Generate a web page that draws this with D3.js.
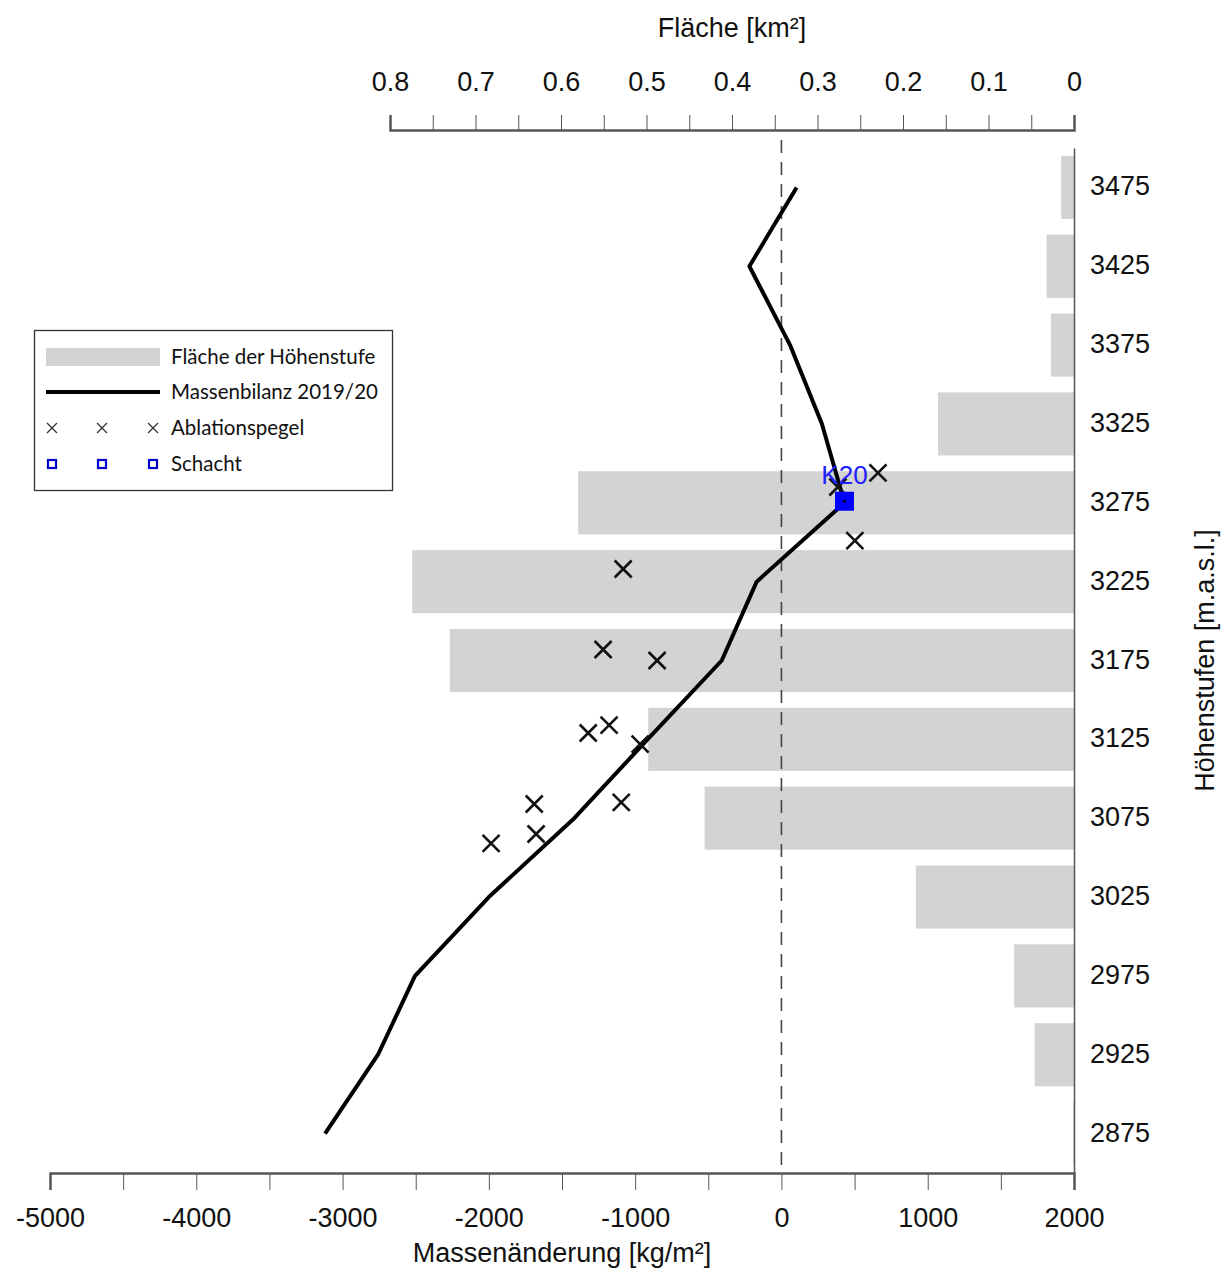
<!DOCTYPE html>
<html>
<head>
<meta charset="utf-8">
<script src="https://cdn.jsdelivr.net/npm/d3@7"></script>
<style>
    body { margin: 0; background: #fff; }
    svg { display: block; }
    .axis text { font-family: "Liberation Sans", Arial, sans-serif; font-size: 27px; fill: #111; }
    .axis path, .axis line { stroke: #555; }
    .title { font-family: "Liberation Sans", Arial, sans-serif; font-size: 27px; fill: #111; }
    .legend text { font-family: Lato, "Open Sans", sans-serif; font-size: 20.5px; fill: #111; }
</style>
</head>
<body>
<div id="chart"></div>
<script>
"use strict";

// Höhenstufen (Mitte der 50-m-Stufe)
const elevations = [2875, 2925, 2975, 3025, 3075, 3125, 3175, 3225, 3275, 3325, 3375, 3425, 3475];
// Fläche der Höhenstufe [km²]
const areaKm2 = [0.001, 0.046, 0.070, 0.185, 0.432, 0.498, 0.730, 0.774, 0.580, 0.159, 0.027, 0.032, 0.015];
// Massenbilanz 2019/20 [kg/m²]
const massBalance = [-3120, -2758, -2505, -2000, -1416, -915, -408, -169, 431, 277, 59, -219, 104];

// Ablationspegel
const stakeBalance = [660, 386, 502, -1082, -1219, -850, -1321, -1178, -966, -1690, -1095, -1677, -1985];
const stakeElevation = [3294, 3285, 3251, 3233, 3182, 3175, 3129, 3134, 3122, 3084, 3085, 3065, 3059];

// Schacht
const pitNames = ["K20"];
const pitBalance = [431];
const pitElevation = [3276];

const bottomTicks = d3.range(-5000, 2001, 500);
const topTicks = d3.range(0, 0.801, 0.05).map(d => Math.round(d * 100) / 100);

const legendLabels = ["Fläche der Höhenstufe", "Massenbilanz 2019/20", "Ablationspegel", "Schacht"];

const width = 1221, height = 1268;
const svg = d3.select("#chart").append("svg")
    .attr("width", width)
    .attr("height", height);

const x = d3.scaleLinear().domain([-5000, 2000]).range([50, 1074]);
const xArea = d3.scaleLinear().domain([0.8, 0]).range([390, 1074]);
const y = d3.scaleLinear().domain([2850, 3500]).range([1173, 148]);

// Balken (Fläche) - 40 m hoch je Stufe
const bars = elevations.map((e, i) => ({e: e, a: areaKm2[i]}));
svg.append("g")
    .selectAll("rect")
    .data(bars)
    .join("rect")
    .attr("x", d => xArea(d.a))
    .attr("width", d => xArea(0) - xArea(d.a))
    .attr("y", d => y(d.e + 20))
    .attr("height", d => y(d.e - 20) - y(d.e + 20))
    .attr("fill", "#d3d3d3");

// Nulllinie
svg.append("line")
    .attr("x1", x(0)).attr("x2", x(0))
    .attr("y1", 140).attr("y2", y(2850))
    .attr("stroke", "#444")
    .attr("stroke-width", 1.6)
    .attr("stroke-dasharray", "13,9");

// Achsen
const xAxis = d3.axisBottom(x)
    .tickValues(bottomTicks)
    .tickSize(17)
    .tickPadding(18)
    .tickFormat(d => d % 1000 === 0 ? d : "");
svg.append("g")
    .attr("class", "axis")
    .attr("transform", `translate(0,${y(2850)})`)
    .call(xAxis)
    .call(g => g.select(".domain").attr("stroke-width", 2.5).attr("stroke", "#777"));

const topAxis = d3.axisTop(xArea)
    .tickValues(topTicks)
    .tickSize(15)
    .tickPadding(24)
    .tickFormat(d => Math.round(d * 100) % 10 === 0 ? (d === 0 ? "0" : d.toFixed(1)) : "");
svg.append("g")
    .attr("class", "axis")
    .attr("transform", "translate(0,130)")
    .call(topAxis)
    .call(g => g.select(".domain").attr("stroke-width", 2.5).attr("stroke", "#777"));

const yAxis = d3.axisRight(y)
    .tickValues(elevations)
    .tickSize(0)
    .tickPadding(16)
    .tickFormat(d3.format("d"));
svg.append("g")
    .attr("class", "axis")
    .attr("transform", `translate(${x(2000)},0)`)
    .call(yAxis)
    .call(g => g.select(".domain").attr("stroke-width", 1.5).attr("stroke", "#666"))
    .call(g => g.selectAll(".tick text").attr("dy", "0.28em"));

// Titel
svg.append("text")
    .attr("class", "title")
    .attr("text-anchor", "middle")
    .attr("x", 732).attr("y", 37)
    .text("Fläche [km²]");
svg.append("text")
    .attr("class", "title")
    .attr("text-anchor", "middle")
    .attr("x", 562).attr("y", 1262)
    .text("Massenänderung [kg/m²]");
svg.append("text")
    .attr("class", "title")
    .attr("text-anchor", "middle")
    .attr("transform", `translate(1214,${(y(2850) + y(3500)) / 2}) rotate(-90)`)
    .attr("fill", "#333")
    .text("Höhenstufen [m.a.s.l.]");

// Massenbilanz-Linie
const line = d3.line()
    .x(d => x(d.b))
    .y(d => y(d.e));
svg.append("path")
    .datum(elevations.map((e, i) => ({e: e, b: massBalance[i]})))
    .attr("d", line)
    .attr("fill", "none")
    .attr("stroke", "#000")
    .attr("stroke-width", 4)
    .attr("stroke-linejoin", "round");

// Ablationspegel
const cross = (sel, s) => sel.append("path")
    .attr("d", `M${-s},${-s}L${s},${s}M${-s},${s}L${s},${-s}`)
    .attr("stroke", "#111")
    .attr("stroke-width", 2.6)
    .attr("fill", "none");
const stakes = stakeBalance.map((b, i) => ({b: b, e: stakeElevation[i]}));
svg.append("g")
    .selectAll("g")
    .data(stakes)
    .join("g")
    .attr("transform", d => `translate(${x(d.b)},${y(d.e)})`)
    .each(function () { cross(d3.select(this), 8.5); });

// Schacht
const pits = pitBalance.map((b, i) => ({b: b, e: pitElevation[i], name: pitNames[i]}));
const pg = svg.append("g")
    .selectAll("g")
    .data(pits)
    .join("g")
    .attr("transform", d => `translate(${x(d.b)},${y(d.e)})`);
pg.append("rect")
    .attr("x", -9.5).attr("y", -9.5)
    .attr("width", 19).attr("height", 19)
    .attr("fill", "#0000ff");
pg.append("circle").attr("r", 1.5).attr("fill", "#000");
pg.append("text")
    .attr("y", -17)
    .attr("text-anchor", "middle")
    .attr("font-family", "Liberation Sans, Arial, sans-serif")
    .attr("font-size", 26)
    .attr("fill", "#2020ff")
    .text(d => d.name);

// Legende
const legend = svg.append("g").attr("class", "legend");
legend.append("rect")
    .attr("x", 34.5).attr("y", 330.5)
    .attr("width", 358).attr("height", 160)
    .attr("fill", "#fff")
    .attr("stroke", "#333")
    .attr("stroke-width", 1.3);
const ly = [357, 392, 428, 464];
legend.append("rect")
    .attr("x", 46).attr("y", ly[0] - 9)
    .attr("width", 114).attr("height", 18)
    .attr("fill", "#d3d3d3");
legend.append("line")
    .attr("x1", 46).attr("x2", 160)
    .attr("y1", ly[1]).attr("y2", ly[1])
    .attr("stroke", "#000").attr("stroke-width", 4);
[52, 102, 153].forEach(cx => {
    cross(legend.append("g").attr("transform", `translate(${cx},${ly[2]})`), 5)
        .attr("stroke-width", 1.3).attr("stroke", "#333");
    legend.append("rect")
        .attr("x", cx - 4).attr("y", ly[3] - 4)
        .attr("width", 8).attr("height", 8)
        .attr("fill", "#fff")
        .attr("stroke", "#0000cc")
        .attr("stroke-width", 2.2);
});
legend.selectAll("text.lbl")
    .data(legendLabels)
    .join("text")
    .attr("class", "lbl")
    .attr("x", 171)
    .attr("y", (d, i) => ly[i])
    .attr("dy", "0.35em")
    .text(d => d);
</script>
</body>
</html>
